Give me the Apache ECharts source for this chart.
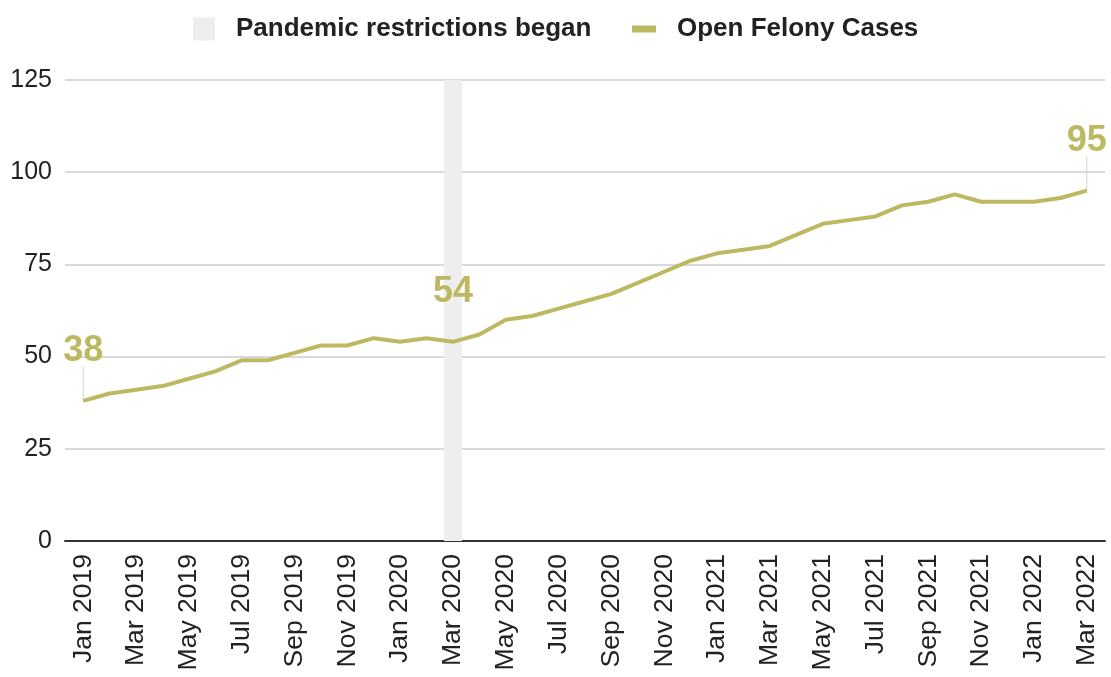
<!DOCTYPE html>
<html>
<head>
<meta charset="utf-8">
<title>Open Felony Cases</title>
<script src="https://cdn.jsdelivr.net/npm/echarts@6/dist/echarts.min.js"></script>
<style>
  html, body { margin: 0; padding: 0; background: #ffffff; }
  #chart { width: 1111px; height: 677px; }
</style>
</head>
<body>
<div id="chart"></div>
<script>
// Monthly categories, Jan 2019 – Mar 2022
const months = [
  'Jan 2019', 'Feb 2019', 'Mar 2019', 'Apr 2019', 'May 2019', 'Jun 2019',
  'Jul 2019', 'Aug 2019', 'Sep 2019', 'Oct 2019', 'Nov 2019', 'Dec 2019',
  'Jan 2020', 'Feb 2020', 'Mar 2020', 'Apr 2020', 'May 2020', 'Jun 2020',
  'Jul 2020', 'Aug 2020', 'Sep 2020', 'Oct 2020', 'Nov 2020', 'Dec 2020',
  'Jan 2021', 'Feb 2021', 'Mar 2021', 'Apr 2021', 'May 2021', 'Jun 2021',
  'Jul 2021', 'Aug 2021', 'Sep 2021', 'Oct 2021', 'Nov 2021', 'Dec 2021',
  'Jan 2022', 'Feb 2022', 'Mar 2022'
];

// Open felony cases per month
const openFelonyCases = [
  38, 40, 41, 42, 44, 46, 49, 49, 51, 53, 53, 55,
  54, 55, 54, 56, 60, 61, 63, 65, 67, 70, 73, 76,
  78, 79, 80, 83, 86, 87, 88, 91, 92, 94, 92, 92,
  92, 93, 95
];

// Marker for the month pandemic restrictions began
const restrictionMonth = 'Mar 2020';
const restrictionHeight = 125;

// Months whose values are called out with a label
const labeledMonths = ['Jan 2019', 'Mar 2020', 'Mar 2022'];

// Value axis ticks
const yTicks = [0, 25, 50, 75, 100, 125];

const OLIVE = '#bdb962';
const FONT = 'Liberation Sans, Arial, sans-serif';
const LEADER_LENGTH = 34;

const chart = echarts.init(document.getElementById('chart'), null, { renderer: 'canvas' });

const barData = months.map(m => (m === restrictionMonth ? restrictionHeight : null));

const lineData = openFelonyCases.map((v, i) => {
  if (!labeledMonths.includes(months[i])) return v;
  return {
    value: v,
    label: {
      show: true,
      position: 'top',
      distance: 4,
      color: OLIVE,
      fontSize: 36,
      fontWeight: 'bold',
      fontFamily: FONT
    }
  };
});

// Leader lines from the called-out points up toward their labels
const leaderData = labeledMonths.map(m => {
  const i = months.indexOf(m);
  return [i, openFelonyCases[i]];
});

const legendText = {
  fontSize: 26, fontWeight: 'bold', color: '#222', fontFamily: FONT,
  padding: [0, 0, 0, 16]
};

const option = {
  backgroundColor: '#ffffff',
  animation: false,
  legend: [
    {
      data: [{ name: 'Pandemic restrictions began', icon: 'rect' }],
      left: 188,
      top: 11,
      itemWidth: 22,
      itemHeight: 23,
      textStyle: legendText
    },
    {
      data: [{ name: 'Open Felony Cases', icon: 'rect' }],
      left: 627,
      top: 11,
      itemWidth: 24,
      itemHeight: 7,
      textStyle: legendText
    }
  ],
  grid: [
    // frame for gridlines, value labels and baseline
    { left: 65, right: 6, top: 80, bottom: 136, containLabel: false },
    // plotting area for the monthly marks
    { left: 70, right: 11, top: 80, bottom: 136, containLabel: false }
  ],
  xAxis: [
    {
      type: 'category',
      gridIndex: 0,
      data: months,
      boundaryGap: true,
      axisLine: { show: true, lineStyle: { color: '#333', width: 2 } },
      axisTick: { show: false },
      axisLabel: { show: false },
      splitLine: { show: false }
    },
    {
      type: 'category',
      gridIndex: 1,
      data: months,
      boundaryGap: true,
      axisLine: { show: false },
      axisTick: { show: false },
      splitLine: { show: false },
      axisLabel: {
        interval: 1,
        rotate: 90,
        margin: 13,
        fontSize: 26.5,
        color: '#222',
        fontFamily: FONT
      }
    }
  ],
  yAxis: [
    {
      type: 'value',
      gridIndex: 0,
      min: yTicks[0],
      max: yTicks[yTicks.length - 1],
      interval: yTicks[1] - yTicks[0],
      axisLine: { show: false },
      axisTick: { show: false },
      axisLabel: { margin: 13, fontSize: 25, color: '#222', fontFamily: FONT },
      splitLine: { show: true, lineStyle: { color: '#cccccc', width: 1.5 } }
    },
    {
      type: 'value',
      gridIndex: 1,
      min: yTicks[0],
      max: yTicks[yTicks.length - 1],
      interval: yTicks[1] - yTicks[0],
      show: false
    }
  ],
  series: [
    {
      name: 'leaders',
      type: 'custom',
      xAxisIndex: 1,
      yAxisIndex: 1,
      data: leaderData,
      silent: true,
      z: 1,
      renderItem: (params, api) => {
        const p = api.coord([api.value(0), api.value(1)]);
        return {
          type: 'line',
          shape: { x1: p[0], y1: p[1], x2: p[0], y2: p[1] - LEADER_LENGTH },
          style: { stroke: '#d4d4d4', lineWidth: 1 }
        };
      }
    },
    {
      name: 'Pandemic restrictions began',
      type: 'bar',
      xAxisIndex: 1,
      yAxisIndex: 1,
      data: barData,
      barWidth: 18,
      itemStyle: { color: '#eeeeee' },
      silent: true,
      z: 2
    },
    {
      name: 'Open Felony Cases',
      type: 'line',
      xAxisIndex: 1,
      yAxisIndex: 1,
      data: lineData,
      showSymbol: true,
      symbol: 'circle',
      symbolSize: 0,
      lineStyle: { color: OLIVE, width: 4 },
      itemStyle: { color: OLIVE },
      labelLayout: { dy: -28 },
      z: 3
    }
  ]
};

chart.setOption(option);
</script>
</body>
</html>
